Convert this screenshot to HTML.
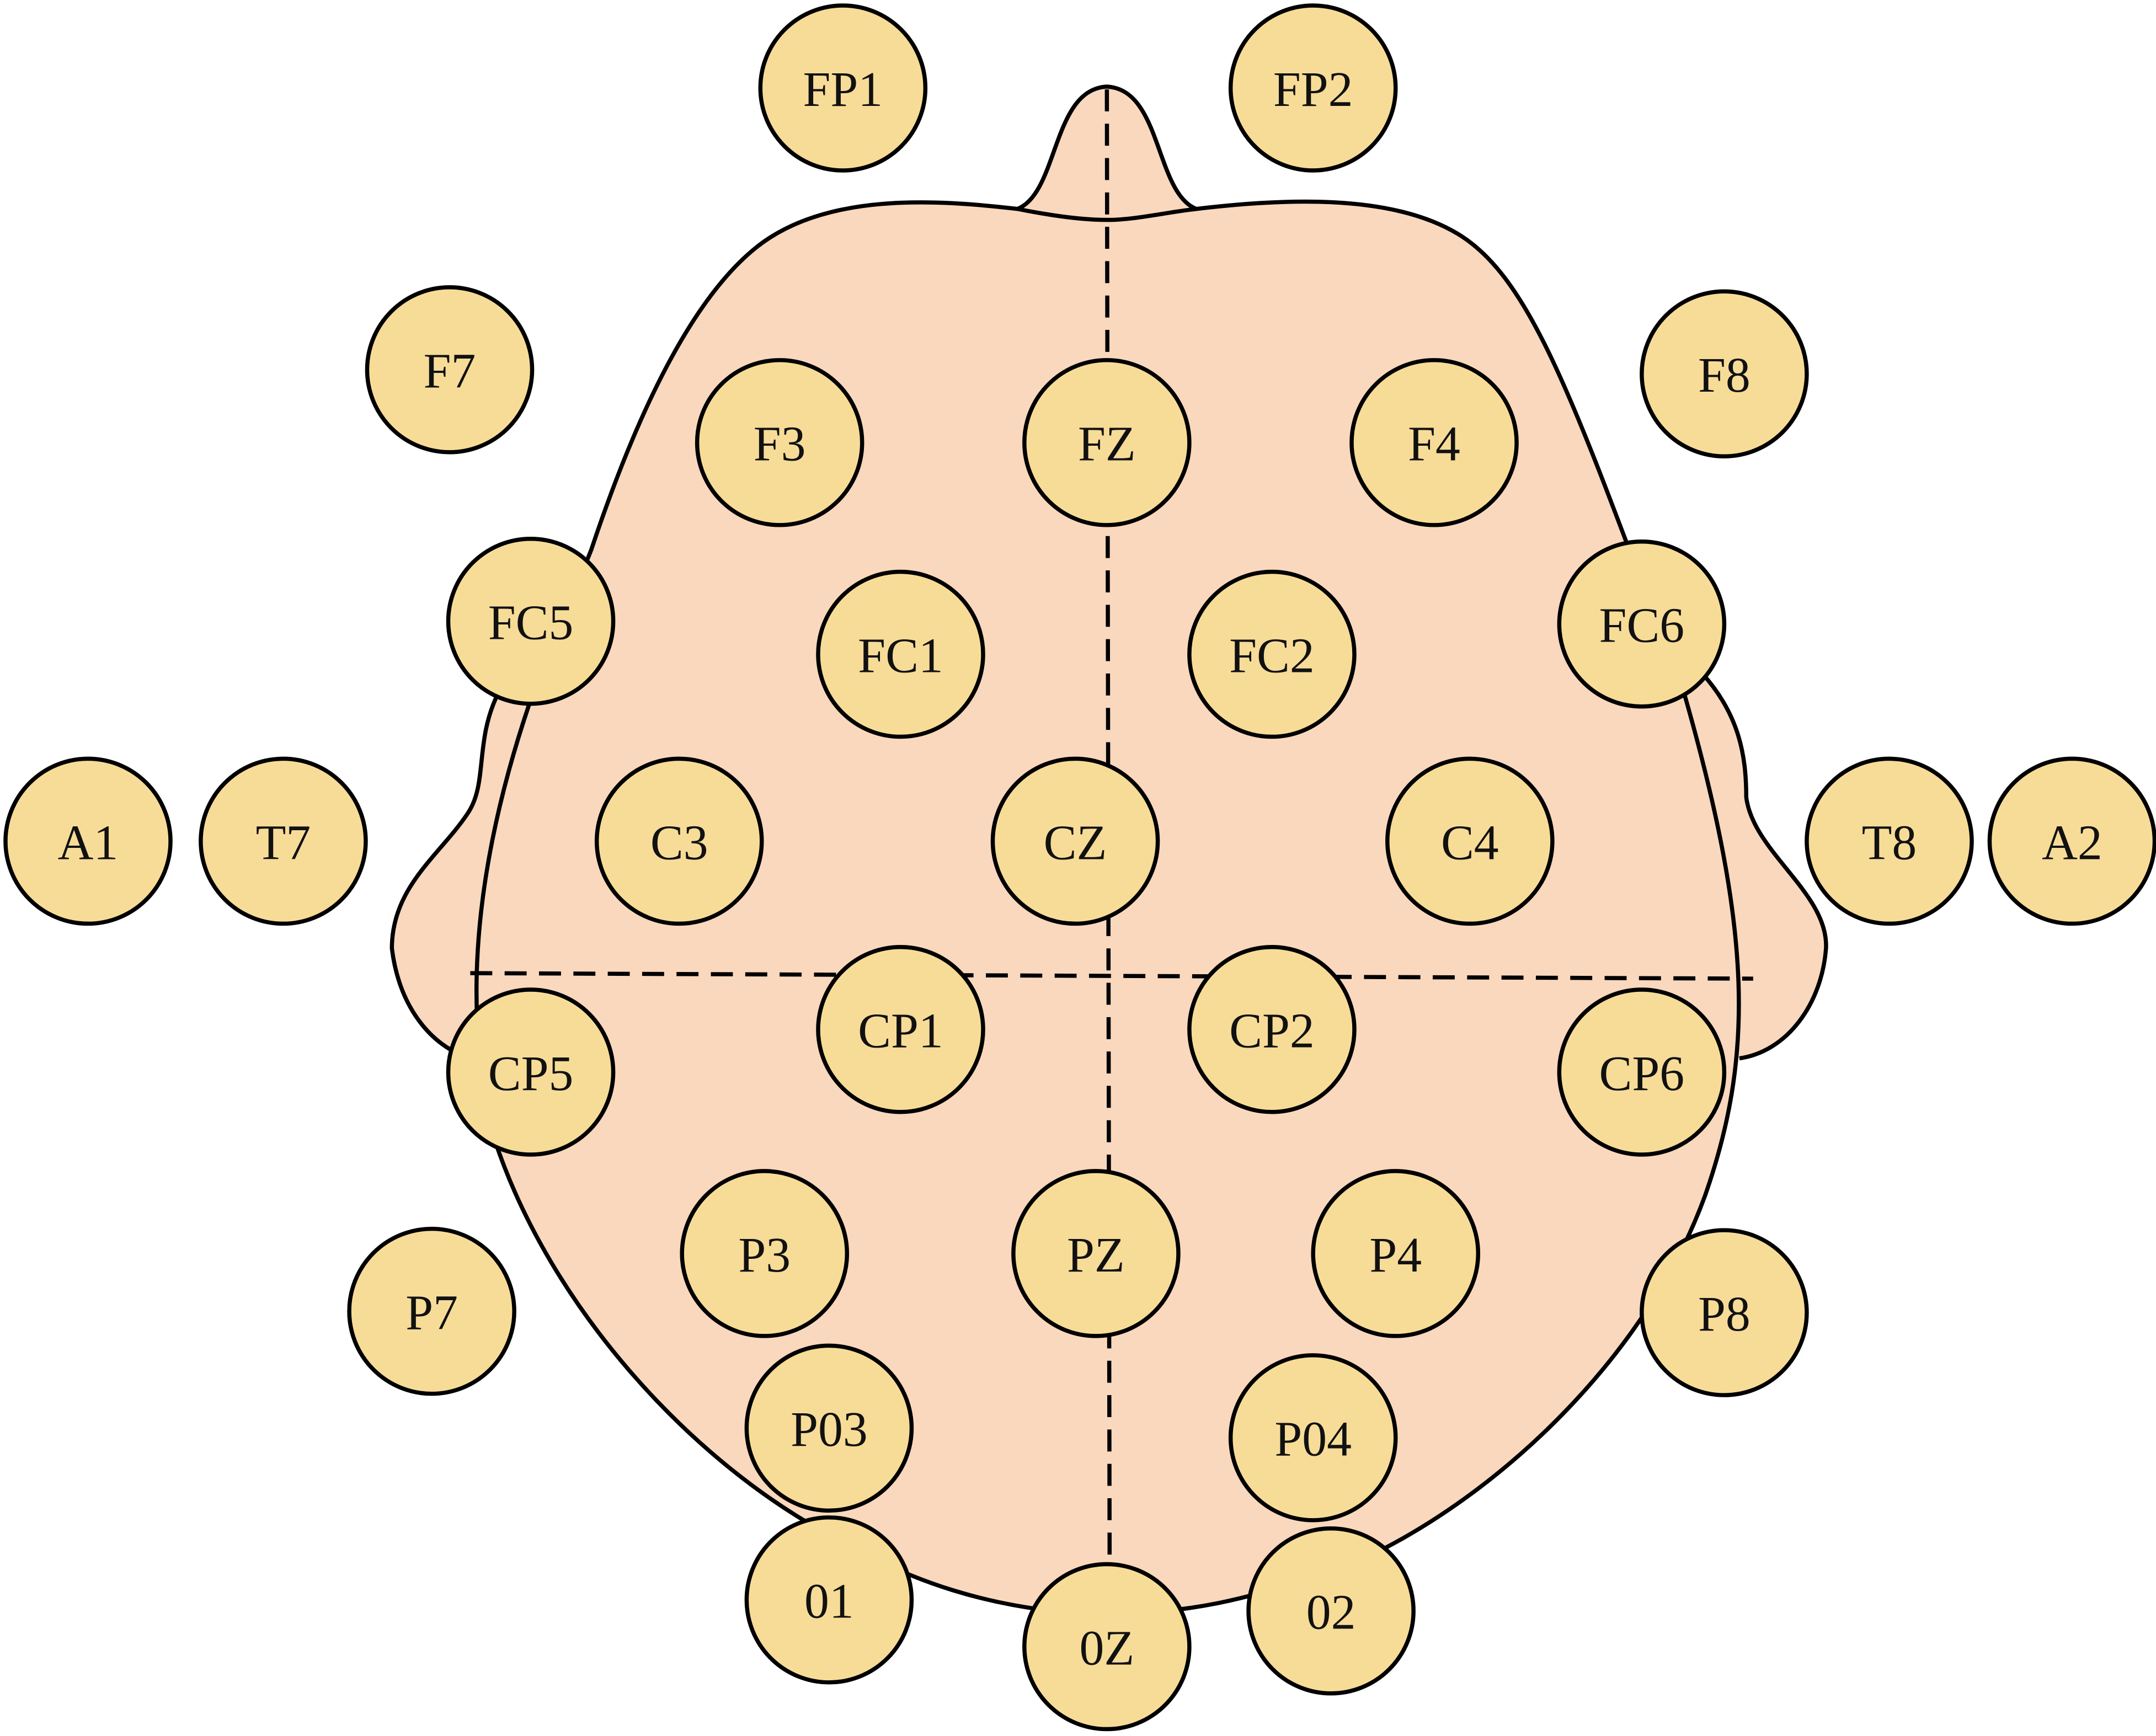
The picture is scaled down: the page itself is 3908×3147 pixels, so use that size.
<!DOCTYPE html>
<html><head><meta charset="utf-8"><style>html,body{margin:0;padding:0;background:#fff}svg{display:block}</style></head>
<body>
<svg width="3908" height="3147" viewBox="0 0 1568 1263" preserveAspectRatio="none" xmlns="http://www.w3.org/2000/svg">
<g fill="#F9D8BE" stroke="none">
<path d="M362,505 C345,540 355,570 340,592 C320,622 285,645 285,690 C290,730 310,755 332,766 L420,700 L420,520 Z"/>
<path d="M1238,490 C1265,520 1270,550 1270,580 C1275,620 1330,650 1328,690 C1325,730 1300,765 1265,770 L1200,700 L1200,500 Z"/>
</g>
<g fill="none" stroke="#000" stroke-width="3">
<path d="M362,505 C345,540 355,570 340,592 C320,622 285,645 285,690 C290,730 310,755 332,766"/>
<path d="M1238,490 C1265,520 1270,550 1270,580 C1275,620 1330,650 1328,690 C1325,730 1300,765 1265,770"/>
</g>
<g fill="#F9D8BE" stroke="#000" stroke-width="3">
<path d="M740,152 C770,140 765,65 805,63 C845,65 840,140 870,152 C930,145 1010,140 1060,170 C1110,200 1140,280 1200,440 L1225,505 C1275,680 1275,770 1240,870 C1200,980 1100,1080 1000,1130 C900,1170 860,1172 805,1175 C720,1172 660,1150 600,1115 C500,1060 400,950 360,830 C342,760 335,660 385,512 L430,400 C460,310 500,220 550,180 C600,140 680,145 740,152 Z"/>
<path d="M740,152 C770,158 790,160 805,160 C825,160 845,155 870,152" fill="none"/>
</g>
<g stroke="#000" stroke-width="3" stroke-dasharray="16,9" fill="none">
<path d="M805,65 L807,1140"/>
<path d="M342,708 L1275,712"/>
</g>
<g fill="#F7DC98" stroke="#000" stroke-width="3">
<circle cx="613" cy="64" r="60"/><circle cx="955" cy="64" r="60"/>
<circle cx="327" cy="269" r="60"/><circle cx="1254" cy="272" r="60"/>
<circle cx="567" cy="322" r="60"/><circle cx="805" cy="322" r="60"/><circle cx="1043" cy="322" r="60"/>
<circle cx="386" cy="452" r="60"/><circle cx="655" cy="476" r="60"/><circle cx="925" cy="476" r="60"/><circle cx="1194" cy="454" r="60"/>
<circle cx="64" cy="612" r="60"/><circle cx="206" cy="612" r="60"/><circle cx="494" cy="612" r="60"/><circle cx="782" cy="612" r="60"/><circle cx="1069" cy="612" r="60"/><circle cx="1374" cy="612" r="60"/><circle cx="1507" cy="612" r="60"/>
<circle cx="655" cy="749" r="60"/><circle cx="925" cy="749" r="60"/><circle cx="386" cy="780" r="60"/><circle cx="1194" cy="780" r="60"/>
<circle cx="556" cy="912" r="60"/><circle cx="797" cy="912" r="60"/><circle cx="1015" cy="912" r="60"/>
<circle cx="314" cy="954" r="60"/><circle cx="1254" cy="955" r="60"/>
<circle cx="603" cy="1039" r="60"/><circle cx="955" cy="1046" r="60"/>
<circle cx="603" cy="1164" r="60"/><circle cx="805" cy="1198" r="60"/><circle cx="968" cy="1172" r="60"/>
</g>
<g font-family="Liberation Serif, serif" font-size="36" text-anchor="middle" fill="#111">
<text x="613" y="77">FP1</text><text x="955" y="77">FP2</text>
<text x="327" y="282">F7</text><text x="1254" y="285">F8</text>
<text x="567" y="335">F3</text><text x="805" y="335">FZ</text><text x="1043" y="335">F4</text>
<text x="386" y="465">FC5</text><text x="655" y="489">FC1</text><text x="925" y="489">FC2</text><text x="1194" y="467">FC6</text>
<text x="64" y="625">A1</text><text x="206" y="625">T7</text><text x="494" y="625">C3</text><text x="782" y="625">CZ</text><text x="1069" y="625">C4</text><text x="1374" y="625">T8</text><text x="1507" y="625">A2</text>
<text x="655" y="762">CP1</text><text x="925" y="762">CP2</text><text x="386" y="793">CP5</text><text x="1194" y="793">CP6</text>
<text x="556" y="925">P3</text><text x="797" y="925">PZ</text><text x="1015" y="925">P4</text>
<text x="314" y="967">P7</text><text x="1254" y="968">P8</text>
<text x="603" y="1052">P03</text><text x="955" y="1059">P04</text>
<text x="603" y="1177">01</text><text x="805" y="1211">0Z</text><text x="968" y="1185">02</text>
</g>
</svg>
</body></html>
